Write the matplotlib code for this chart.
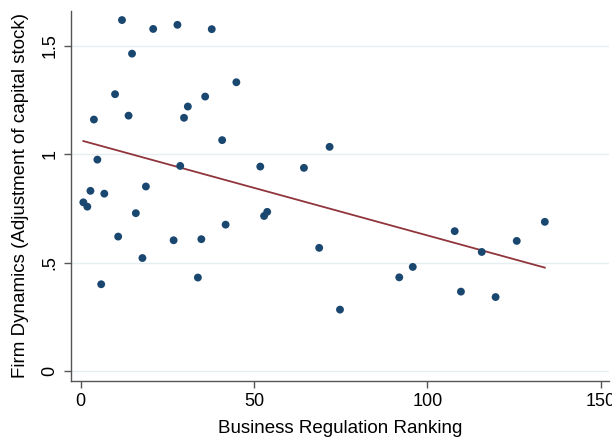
import numpy as np
import matplotlib
matplotlib.use("Agg")
import matplotlib.pyplot as plt

plt.rcParams["font.family"] = ["Liberation Sans", "DejaVu Sans"]

# Business regulation ranking vs firm dynamics
ranking = [11.9, 20.9, 27.9, 37.8, 14.8, 44.9, 9.9, 35.9, 30.9, 13.8,
           29.8, 3.8, 40.8, 4.8, 28.7, 51.8, 64.4, 71.8, 18.8, 2.8,
           6.8, 0.75, 1.9, 15.9, 52.9, 53.8, 10.8, 26.8, 34.8, 41.8,
           17.8, 33.8, 5.9, 68.8, 74.8, 91.9, 95.8, 107.9, 109.7, 115.7,
           119.7, 125.8, 133.9]
adjustment = [1.619, 1.578, 1.597, 1.577, 1.464, 1.332, 1.277, 1.266, 1.220, 1.178,
              1.168, 1.160, 1.065, 0.975, 0.946, 0.943, 0.937, 1.034, 0.851, 0.831,
              0.818, 0.778, 0.758, 0.728, 0.715, 0.734, 0.620, 0.603, 0.608, 0.675,
              0.521, 0.431, 0.400, 0.568, 0.283, 0.432, 0.480, 0.645, 0.366, 0.549,
              0.341, 0.600, 0.688]

x_ticks = [0, 50, 100, 150]
y_ticks = [0, 0.5, 1, 1.5]
y_tick_labels = ["0", ".5", "1", "1.5"]

dot_color = "#1a476f"
line_color = "#90353b"
grid_color = "#e6eef0"
axis_color = "#555555"

x = np.array(ranking)
y = np.array(adjustment)
slope, intercept = np.polyfit(x, y, 1)
xfit = np.array([x.min(), x.max()])

fig = plt.figure(figsize=(6.12, 4.38), dpi=100)
ax = fig.add_axes([0.1155, 0.1308, 0.8795, 0.8442])

for yt in y_ticks:
    ax.axhline(yt, color=grid_color, linewidth=1.0, zorder=0)

ax.scatter(x, y, s=32, color=dot_color, edgecolors="none", zorder=3)
ax.plot(xfit, intercept + slope * xfit, color=line_color, linewidth=1.3, zorder=2)

ax.set_xlim(-2.9, 152.4)
ax.set_ylim(-0.045, 1.661)
ax.set_xticks(x_ticks)
ax.set_yticks(y_ticks)
ax.set_yticklabels(y_tick_labels, rotation=90, va="center")
ax.tick_params(axis="both", direction="out", length=5, width=1, color=axis_color,
               labelsize=13, pad=4)

for side in ["top", "right"]:
    ax.spines[side].set_visible(False)
for side in ["left", "bottom"]:
    ax.spines[side].set_color(axis_color)
    ax.spines[side].set_linewidth(1)

ax.set_xlabel("Business Regulation Ranking", fontsize=13.5, labelpad=7)
ax.set_ylabel("Firm Dynamics (Adjustment of capital stock)", fontsize=13.5, labelpad=9)

fig.savefig("out.png", dpi=100)
